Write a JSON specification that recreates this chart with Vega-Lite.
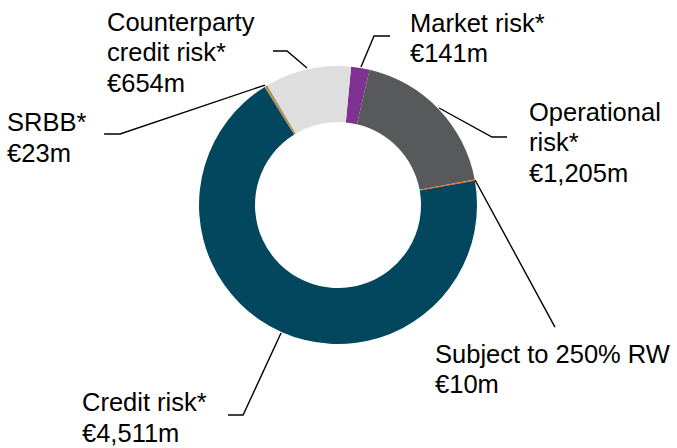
{
  "$schema": "https://vega.github.io/schema/vega-lite/v6.json",
  "width": 677,
  "height": 448,
  "autosize": {"type": "fit", "contains": "padding"},
  "padding": 0,
  "background": "white",
  "config": {"view": {"stroke": null}},
  "datasets": {
    "slices": [
      {"category": "Market risk*", "value": 141, "order": 1},
      {"category": "Operational risk*", "value": 1205, "order": 2},
      {"category": "Subject to 250% RW", "value": 10, "order": 3},
      {"category": "Credit risk*", "value": 4511, "order": 4},
      {"category": "SRBB*", "value": 23, "order": 5},
      {"category": "Counterparty credit risk*", "value": 654, "order": 6}
    ],
    "leaders": [
      {"leader": "Market", "seq": 1, "u": 0.165, "v": 0.993},
      {"leader": "Market", "seq": 2, "u": 0.259, "v": 1.216},
      {"leader": "Market", "seq": 3, "u": 0.374, "v": 1.216},
      {"leader": "Operational", "seq": 1, "u": 0.727, "v": 0.698},
      {"leader": "Operational", "seq": 2, "u": 1.108, "v": 0.489},
      {"leader": "Operational", "seq": 3, "u": 1.216, "v": 0.489},
      {"leader": "Subject", "seq": 1, "u": 0.986, "v": 0.18},
      {"leader": "Subject", "seq": 2, "u": 1.561, "v": -0.878},
      {"leader": "Credit", "seq": 1, "u": -0.41, "v": -0.921},
      {"leader": "Credit", "seq": 2, "u": -0.683, "v": -1.511},
      {"leader": "Credit", "seq": 3, "u": -0.791, "v": -1.511},
      {"leader": "SRBB", "seq": 1, "u": -0.525, "v": 0.863},
      {"leader": "SRBB", "seq": 2, "u": -1.568, "v": 0.511},
      {"leader": "SRBB", "seq": 3, "u": -1.683, "v": 0.511},
      {"leader": "Counterparty", "seq": 1, "u": -0.223, "v": 0.986},
      {"leader": "Counterparty", "seq": 2, "u": -0.367, "v": 1.108},
      {"leader": "Counterparty", "seq": 3, "u": -0.468, "v": 1.108}
    ],
    "labels": [
      {"text": "Market risk*\n€141m", "u": 0.518, "v": 1.247},
      {"text": "Operational\nrisk*\n€1,205m", "u": 1.374, "v": 0.606},
      {"text": "Subject to 250% RW\n€10m", "u": 0.698, "v": -1.135},
      {"text": "Credit risk*\n€4,511m", "u": -1.842, "v": -1.482},
      {"text": "SRBB*\n€23m", "u": -2.381, "v": 0.532},
      {"text": "Counterparty\ncredit risk*\n€654m", "u": -1.662, "v": 1.252}
    ]
  },
  "layer": [
    {
      "data": {"name": "slices"},
      "mark": {"type": "arc", "outerRadius": 139, "innerRadius": 83},
      "encoding": {
        "x": {"datum": 0, "type": "quantitative", "scale": {"domain": [-2.432, 2.439], "nice": false, "zero": false}, "axis": null},
        "y": {"datum": 0, "type": "quantitative", "scale": {"domain": [-1.748, 1.475], "nice": false, "zero": false}, "axis": null},
        "theta": {"field": "value", "type": "quantitative", "stack": true, "scale": {"range": [0.094, 6.3772]}},
        "order": {"field": "order", "type": "quantitative"},
        "color": {
          "field": "category",
          "type": "nominal",
          "legend": null,
          "scale": {
            "domain": ["Market risk*", "Operational risk*", "Subject to 250% RW", "Credit risk*", "SRBB*", "Counterparty credit risk*"],
            "range": ["#7f3292", "#58595b", "#f26522", "#02475d", "#b48f55", "#dedede"]
          }
        }
      }
    },
    {
      "data": {"name": "leaders"},
      "mark": {"type": "line", "color": "black", "strokeWidth": 1.4},
      "encoding": {
        "x": {"field": "u", "type": "quantitative", "scale": {"domain": [-2.432, 2.439], "nice": false, "zero": false}, "axis": null},
        "y": {"field": "v", "type": "quantitative", "scale": {"domain": [-1.748, 1.475], "nice": false, "zero": false}, "axis": null},
        "detail": {"field": "leader", "type": "nominal"},
        "order": {"field": "seq", "type": "quantitative"}
      }
    },
    {
      "data": {"name": "labels"},
      "mark": {"type": "text", "align": "left", "baseline": "alphabetic", "lineBreak": "\n", "lineHeight": 30.5, "font": "Liberation Sans", "fontSize": 25.5, "color": "black"},
      "encoding": {
        "x": {"field": "u", "type": "quantitative", "scale": {"domain": [-2.432, 2.439], "nice": false, "zero": false}, "axis": null},
        "y": {"field": "v", "type": "quantitative", "scale": {"domain": [-1.748, 1.475], "nice": false, "zero": false}, "axis": null},
        "text": {"field": "text", "type": "nominal"}
      }
    }
  ]
}
